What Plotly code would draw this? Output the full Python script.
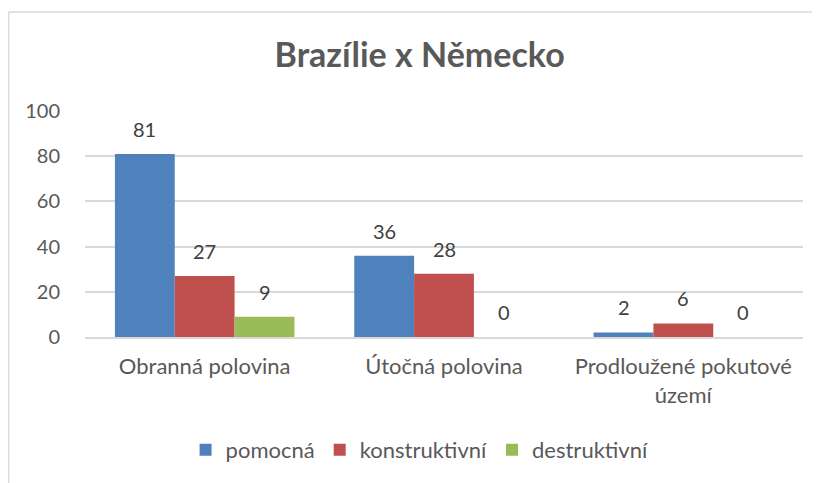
import plotly.graph_objects as go

categories = ["Obranná polovina", "Útočná polovina", "Prodloužené pokutové území"]
tick_labels = ["Obranná polovina", "Útočná polovina", "Prodloužené pokutové<br>území"]
series_names = ["pomocná", "konstruktivní", "destruktivní"]
pomocna = [81, 36, 2]
konstruktivni = [27, 28, 6]
destruktivni = [9, 0, 0]
colors = ["#4F81BD", "#C0504D", "#9BBB59"]

series_values = [pomocna, konstruktivni, destruktivni]
FONT = "Lato, 'Open Sans', sans-serif"

fig = go.Figure()
for name, vals, col in zip(series_names, series_values, colors):
    fig.add_trace(go.Bar(x=categories, y=vals, name=name, marker=dict(color=col, line=dict(width=0)),
                         hoverinfo="skip"))

bargap = 0.25
n = len(series_values)
bw = (1 - bargap) / n
annotations = []
for j, vals in enumerate(series_values):
    for i, v in enumerate(vals):
        annotations.append(dict(x=i + (j - (n - 1) / 2) * bw, y=v, xref="x", yref="y",
                                text=str(v), showarrow=False, yanchor="middle", yshift=25,
                                font=dict(family=FONT, size=20, color="#404040")))

# plot area: x 77..795, y 103..329 within the figure (page body adds 8px offset)
fig.update_layout(
    width=820, height=483,
    margin=dict(l=77, r=25, t=103, b=154),
    paper_bgcolor="white", plot_bgcolor="white",
    barmode="group", bargap=bargap, bargroupgap=0,
    title=dict(text="<b>Brazílie x Německo</b>", x=0.502, xanchor="center", y=0.903, yanchor="middle",
               font=dict(family=FONT, size=34, color="#595959")),
    font=dict(family=FONT, size=20, color="#595959"),
    showlegend=True,
    legend=dict(orientation="h", x=0.466, xanchor="center", y=-0.5, yanchor="middle",
                font=dict(family=FONT, size=22, color="#595959"), traceorder="normal",
                itemwidth=30),
    annotations=annotations,
    shapes=[
        dict(type="line", xref="paper", yref="paper", x0=-0.1065, x1=-0.1065, y0=1.4378, y1=-0.8,
             line=dict(color="#D9D9D9", width=1.5)),
        dict(type="line", xref="paper", yref="paper", x0=-0.1065, x1=1.1, y0=1.4378, y1=1.4378,
             line=dict(color="#D9D9D9", width=1.5)),
    ],
)
fig.update_xaxes(tickmode="array", tickvals=categories, ticktext=tick_labels,
                 showgrid=False, showline=True, linecolor="#D9D9D9", linewidth=1.5,
                 ticks="", ticklabelstandoff=9, tickfont=dict(family=FONT, size=22, color="#595959"))
fig.update_yaxes(range=[0, 100], tickvals=[0, 20, 40, 60, 80, 100], showgrid=True, gridcolor="#D9D9D9",
                 gridwidth=1.5, zeroline=False, showline=False, ticks="", ticklabelstandoff=24,
                 tickfont=dict(family=FONT, size=20, color="#595959"))

fig.write_html("out.html")
